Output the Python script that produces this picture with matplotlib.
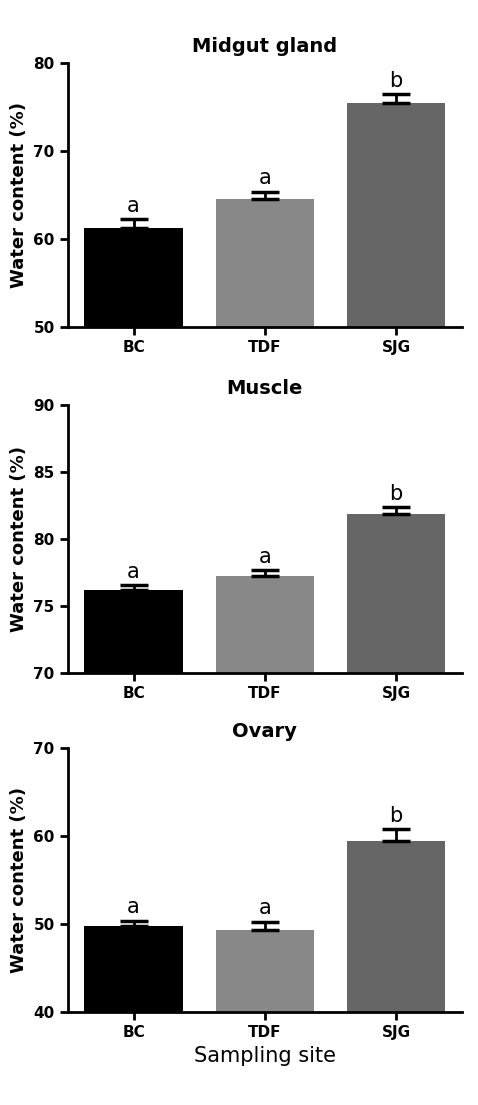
import matplotlib
matplotlib.use("Agg")
import matplotlib.pyplot as plt

sites = ["BC", "TDF", "SJG"]
titles = ["Midgut gland", "Muscle", "Ovary"]
means = [[61.3, 64.6, 75.5], [76.2, 77.2, 81.9], [49.8, 49.3, 59.4]]
errs = [[1.0, 0.8, 1.0], [0.35, 0.45, 0.5], [0.6, 1.0, 1.4]]
letters = [["a", "a", "b"], ["a", "a", "b"], ["a", "a", "b"]]
ylims = [(50, 80), (70, 90), (40, 70)]
yticks = [[50, 60, 70, 80], [70, 75, 80, 85, 90], [40, 50, 60, 70]]
colors = ["#000000", "#888888", "#666666"]

fig = plt.figure(figsize=(4.78, 11.05), dpi=100)
rects = [(0.142, 0.704, 0.824, 0.239), (0.142, 0.391, 0.824, 0.2425), (0.142, 0.084, 0.824, 0.239)]
for i in range(3):
    ax = fig.add_axes(rects[i])
    x = range(3)
    ax.bar(x, means[i], width=0.75, color=colors, zorder=2)
    ax.errorbar(x, means[i], yerr=[[0]*3, errs[i]], fmt="none", ecolor="black",
                elinewidth=2, capsize=10, capthick=2.5, zorder=3)
    span = ylims[i][1] - ylims[i][0]
    for j in x:
        ax.text(j, means[i][j] + errs[i][j] + span*0.012, letters[i][j], ha="center", va="bottom", fontsize=15)
    ax.set_ylim(*ylims[i])
    ax.set_xlim(-0.5, 2.5)
    ax.set_yticks(yticks[i])
    ax.set_xticks(list(x))
    ax.set_xticklabels(sites, fontweight="bold", fontsize=11)
    for t in ax.get_yticklabels():
        t.set_fontweight("bold"); t.set_fontsize(11)
    ax.spines["top"].set_visible(False)
    ax.spines["right"].set_visible(False)
    ax.spines["left"].set_linewidth(2)
    ax.spines["bottom"].set_linewidth(2)
    ax.tick_params(width=2, length=6)
    ax.set_ylabel("Water content (%)", fontweight="bold", fontsize=13)
    ax.set_title(titles[i], fontweight="bold", fontsize=14, pad=8)
    if i == 2:
        ax.set_xlabel("Sampling site", fontsize=15)
fig.savefig("out.png", dpi=100)
